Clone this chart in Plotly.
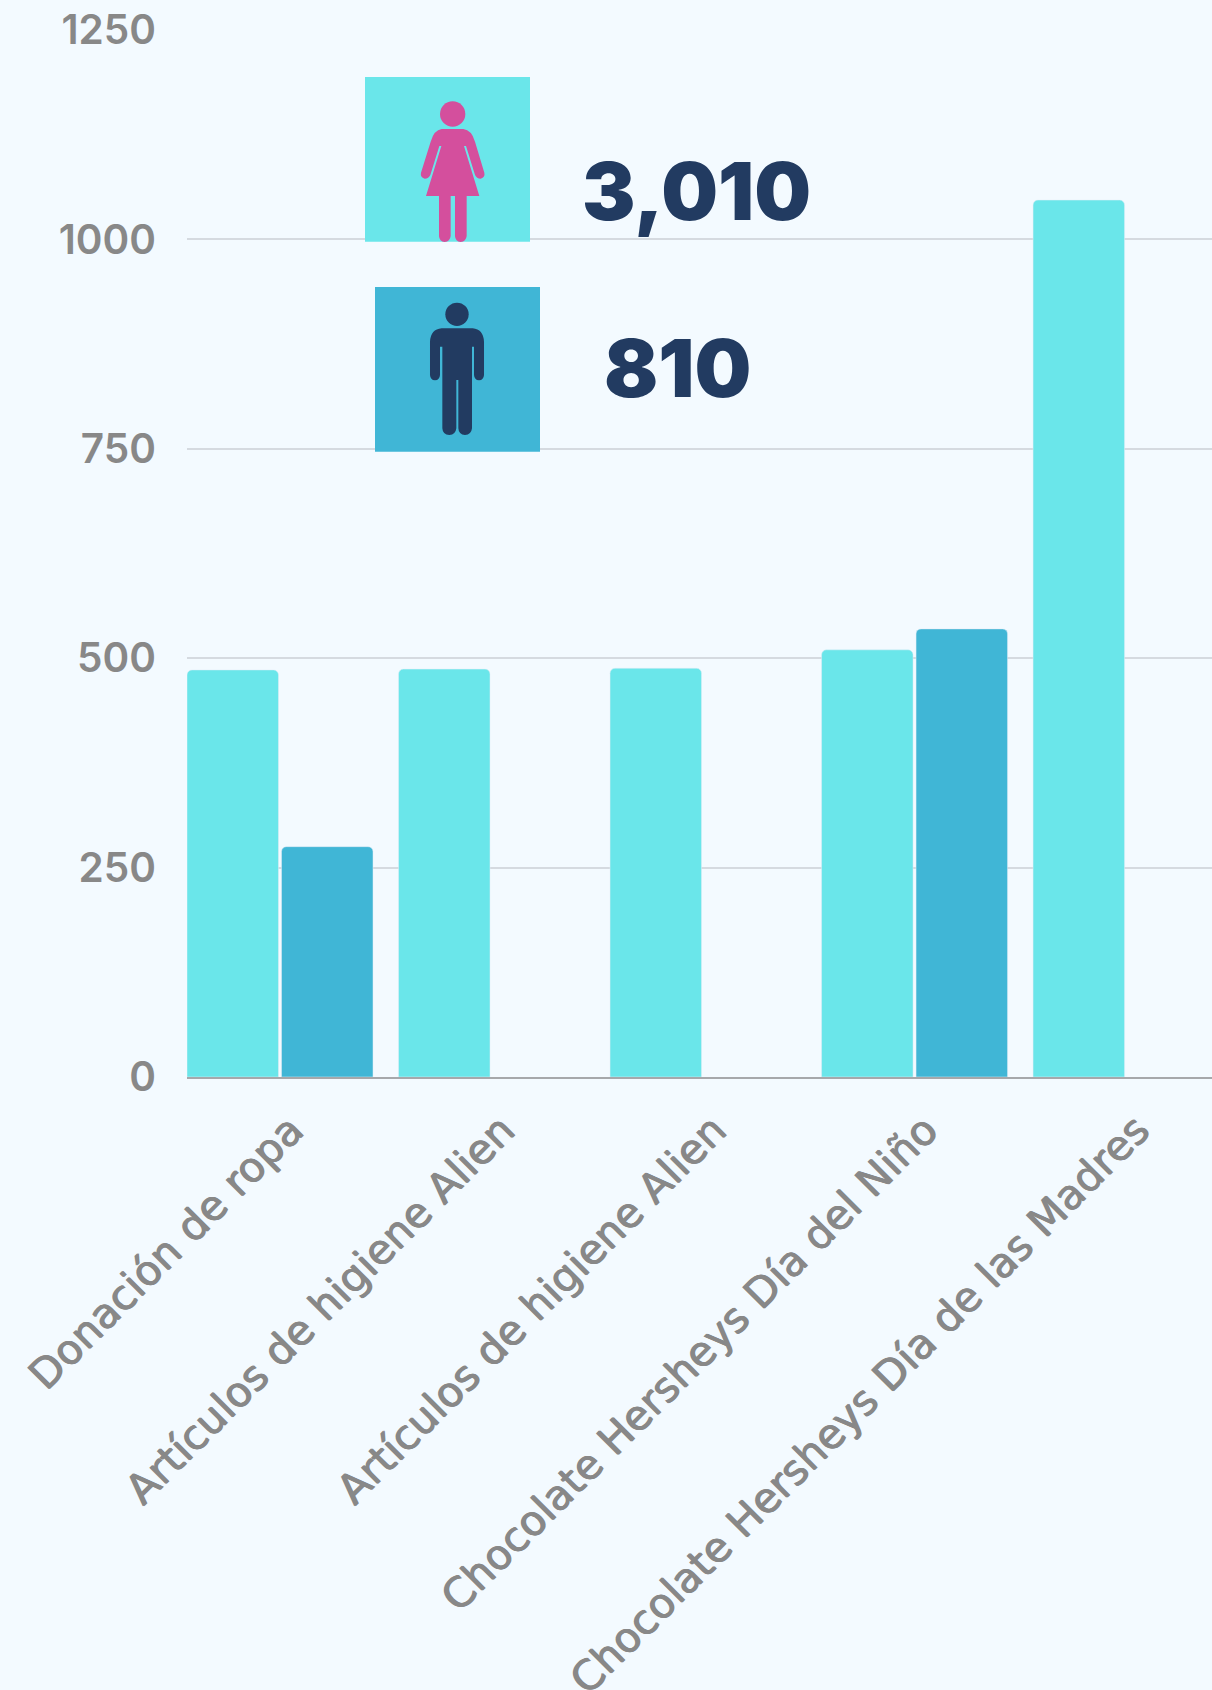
import plotly.graph_objects as go

categories = ["Donación de ropa", "Artículos de higiene Alien", "Artículos de higiene Alien",
              "Chocolate Hersheys Día del Niño", "Chocolate Hersheys Día de las Madres"]
mujeres = [486, 487, 488, 510, 1047]
hombres = [275, None, None, 535, None]
y_ticks = [0, 250, 500, 750, 1000, 1250]
total_mujeres = "3,010"
total_hombres = "810"

W, H = 1212, 1690
L, R, T, B = 187, 0, 30, 613
PW, PH = W - L - R, H - T - B
TEAL, BLUE, NAVY, PINK, GREY = "#6AE6EA", "#40B6D6", "#223B61", "#D44F9D", "#888888"


def fx(zx):
    return (340 + zx / 3 - L) / PW


def fy(zy):
    return 1 - (60 + zy / 3 - T) / PH


def path(cmds):
    out = []
    for c in cmds:
        out.append(c[0] + " ".join(
            f"{fx(c[i]):.5f},{fy(c[i + 1]):.5f}" for i in range(1, len(c), 2)))
    return " ".join(out) + " Z"


female = [
    ("M", 305, 207), ("L", 370, 207), ("Q", 395, 210, 405, 245), ("L", 433, 338),
    ("Q", 436, 352, 422, 356), ("Q", 410, 356, 405, 345), ("L", 378, 258), ("L", 372, 258),
    ("L", 418, 408), ("L", 380, 408), ("L", 380, 528), ("Q", 378, 545, 362, 546),
    ("Q", 346, 545, 345, 528), ("L", 345, 408), ("L", 332, 408), ("L", 332, 528),
    ("Q", 330, 545, 314, 546), ("Q", 298, 545, 297, 528), ("L", 297, 408), ("L", 258, 408),
    ("L", 304, 258), ("L", 298, 258), ("L", 271, 345), ("Q", 266, 356, 254, 356),
    ("Q", 240, 352, 243, 338), ("L", 272, 245), ("Q", 282, 210, 305, 207),
]
male = [
    ("M", 305, 805), ("L", 398, 805), ("Q", 430, 808, 432, 845), ("L", 432, 945),
    ("Q", 431, 960, 417, 961), ("Q", 403, 960, 402, 945), ("L", 402, 860), ("L", 396, 860),
    ("L", 396, 1105), ("Q", 394, 1124, 375, 1125), ("Q", 356, 1124, 355, 1105), ("L", 355, 960),
    ("L", 349, 960), ("L", 349, 1105), ("Q", 347, 1124, 328, 1125), ("Q", 308, 1124, 307, 1105),
    ("L", 307, 860), ("L", 300, 860), ("L", 300, 945), ("Q", 299, 960, 285, 961),
    ("Q", 271, 960, 270, 945), ("L", 270, 845), ("Q", 272, 808, 305, 805),
]


def rect(x0, y0, x1, y1, color):
    return dict(type="rect", xref="paper", yref="paper", x0=fx(x0), x1=fx(x1),
                y0=fy(y1), y1=fy(y0), fillcolor=color, line_width=0, layer="above")


def circle(cx, cy, r, color):
    return dict(type="circle", xref="paper", yref="paper", x0=fx(cx - r), x1=fx(cx + r),
                y0=fy(cy + r), y1=fy(cy - r), fillcolor=color, line_width=0, layer="above")


shapes = [
    rect(75, 51, 570, 545, TEAL),
    circle(338, 162, 38, PINK),
    dict(type="path", xref="paper", yref="paper", path=path(female), fillcolor=PINK, line_width=0),
    rect(105, 681, 600, 1175, BLUE),
    circle(351, 763, 35, NAVY),
    dict(type="path", xref="paper", yref="paper", path=path(male), fillcolor=NAVY, line_width=0),
]

positions = list(range(len(categories)))
label_offset = 0.052

fig = go.Figure()
fig.add_bar(x=positions, y=mujeres, marker_color=TEAL, name="Mujeres", hovertext=categories)
fig.add_bar(x=positions, y=hombres, marker_color=BLUE, name="Hombres", hovertext=categories)


def big(text, zx, zy):
    return dict(text=text, xref="paper", yref="paper", x=fx(zx), y=fy(zy),
                xanchor="center", yanchor="middle", showarrow=False,
                font=dict(family="Inter, Lato, sans-serif", size=80, color=NAVY, weight=900))


fig.update_layout(
    width=W, height=H, autosize=False,
    margin=dict(l=L, r=R, t=T, b=B, autoexpand=False),
    paper_bgcolor="#F3FAFF", plot_bgcolor="#F3FAFF",
    showlegend=False, barmode="group",
    bargap=0.1064, bargroupgap=0.0317, barcornerradius=5,
    shapes=shapes,
    annotations=[big(total_mujeres, 1070, 392), big(total_hombres, 1012, 923)],
    font=dict(family="Inter, Lato, sans-serif", color=GREY),
)
fig.update_xaxes(
    type="linear", range=[-0.4397, 4.4063], tickangle=-45, showgrid=False, ticks="",
    tickmode="array", tickvals=[p + label_offset for p in positions], ticktext=categories,
    tickfont=dict(family="DejaVu Sans, sans-serif", size=41.5, color=GREY,
                  shadow="0.5px 0.5px 0 #888888, -0.5px -0.5px 0 #888888"),
    showline=True, linecolor="#A6A8AB", linewidth=2, zeroline=False,
    ticklabelstandoff=10,
)
fig.update_yaxes(
    range=[0, 1250], tickvals=y_ticks, ticktext=[str(v) for v in y_ticks],
    showgrid=True, gridcolor="#D5DAE0", gridwidth=2, zeroline=False, showline=False, ticks="",
    tickfont=dict(family="Inter, Lato, sans-serif", size=40.5, color=GREY, weight=600),
    ticklabelstandoff=30,
)
fig.write_html("out.html", config={"displayModeBar": False},
               post_script="document.body.style.margin='0';document.documentElement.style.background='#F3FAFF';")
